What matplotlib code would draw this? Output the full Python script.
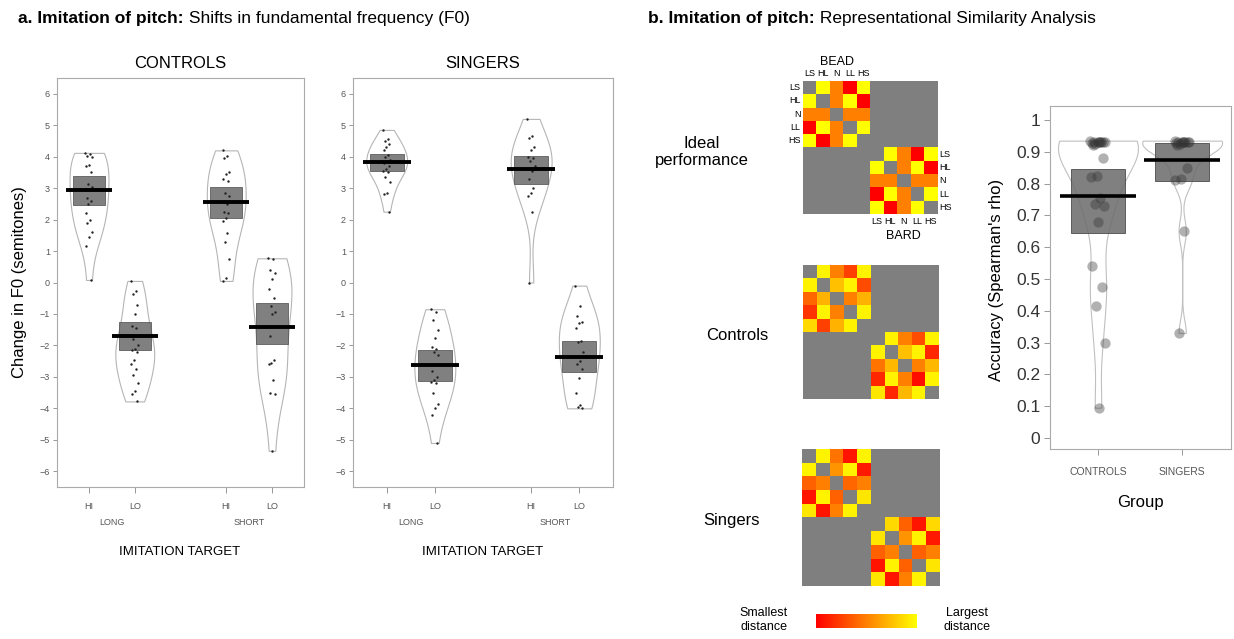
import numpy as np
import matplotlib
matplotlib.use('Agg')
import matplotlib.pyplot as plt
from matplotlib.colors import LinearSegmentedColormap

plt.rcParams['font.family'] = ['Liberation Sans', 'DejaVu Sans']

W, H = 1234, 639

# ---------------- a. F0 shifts per imitation target ----------------
targets = ['HI', 'LO', 'HI', 'LO']
durations = ['LONG', 'SHORT']
positions = [1, 2, 4, 5]

ctrl_long_hi = [4.12, 4.08, 4.02, 3.98, 3.75, 3.7, 3.5, 3.12, 3.02, 2.95, 2.7, 2.6,
                2.5, 2.2, 2.0, 1.9, 1.62, 1.45, 1.15, 0.08]
ctrl_long_lo = [0.05, -0.28, -0.38, -0.7, -1.0, -1.38, -1.45, -1.8, -2.0, -2.1,
                -2.15, -2.2, -2.45, -2.6, -2.75, -2.95, -3.2, -3.45, -3.55, -3.78]
ctrl_short_hi = [4.2, 4.02, 3.95, 3.5, 3.45, 3.3, 3.22, 2.85, 2.75, 2.5, 2.25, 2.2,
                 2.05, 1.95, 1.58, 1.3, 0.75, 0.15, 0.05]
ctrl_short_lo = [0.77, 0.75, 0.4, 0.3, 0.12, -0.2, -0.5, -0.75, -0.95, -1.0, -1.7,
                 -2.45, -2.55, -2.6, -3.1, -3.5, -3.55, -5.35]
ctrl_means = [2.95, -1.7, 2.57, -1.4]
ctrl_ci_lo = [2.45, -2.15, 2.05, -1.97]
ctrl_ci_hi = [3.37, -1.25, 3.03, -0.66]

sing_long_hi = [4.85, 4.55, 4.5, 4.4, 4.3, 4.2, 4.05, 4.0, 3.9, 3.85, 3.8, 3.7,
                3.6, 3.55, 3.5, 3.35, 3.2, 2.85, 2.8, 2.25]
sing_long_lo = [-0.85, -0.95, -1.2, -1.5, -1.75, -2.05, -2.1, -2.2, -2.3, -2.6,
                -2.8, -3.0, -3.1, -3.15, -3.2, -3.5, -3.85, -4.0, -4.2, -5.1]
sing_short_hi = [5.2, 4.65, 4.6, 4.3, 4.2, 4.0, 3.95, 3.85, 3.7, 3.55, 3.3, 3.0,
                 2.85, 2.75, 2.25, 0.0]
sing_short_lo = [-0.1, -0.75, -1.05, -1.25, -1.3, -1.45, -1.85, -1.9, -2.2, -2.5,
                 -2.6, -2.75, -3.05, -3.5, -3.9, -3.95, -4.0]
sing_means = [3.83, -2.63, 3.6, -2.37]
sing_ci_lo = [3.55, -3.12, 3.12, -2.85]
sing_ci_hi = [4.1, -2.13, 4.03, -1.87]

# ---------------- b. RSA dissimilarity matrices (0 = smallest, 1 = largest) ----------------
rsa_labels = ['LS', 'HL', 'N', 'LL', 'HS']
nan = np.nan
ideal_bead = [[nan, 1.0, 0.5, 0.0, 1.0],
              [1.0, nan, 0.5, 1.0, 0.0],
              [0.5, 0.5, nan, 0.5, 0.5],
              [0.0, 1.0, 0.5, nan, 1.0],
              [1.0, 0.0, 0.5, 1.0, nan]]
ideal_bard = ideal_bead
ctrl_bead = [[nan, 0.95, 0.5, 0.25, 0.95],
             [0.95, nan, 0.75, 0.95, 0.3],
             [0.4, 0.7, nan, 0.5, 0.7],
             [0.2, 0.95, 0.5, nan, 0.95],
             [0.85, 0.25, 0.7, 0.95, nan]]
ctrl_bard = [[nan, 0.95, 0.5, 0.3, 0.95],
             [0.95, nan, 0.75, 0.95, 0.15],
             [0.45, 0.72, nan, 0.5, 0.72],
             [0.15, 0.95, 0.5, 0.05, 0.95],
             [0.9, 0.15, 0.72, 0.95, nan]]
sing_bead = [[nan, 0.95, 0.45, 0.08, 0.95],
             [0.95, nan, 0.58, 0.95, 0.1],
             [0.38, 0.5, nan, 0.4, 0.5],
             [0.08, 0.95, 0.38, nan, 0.9],
             [0.9, 0.08, 0.5, 0.95, nan]]
sing_bard = [[nan, 0.85, 0.38, 0.08, 0.85],
             [0.9, nan, 0.58, 0.95, 0.1],
             [0.38, 0.5, nan, 0.38, 0.5],
             [0.08, 0.95, 0.38, nan, 0.9],
             [0.9, 0.08, 0.5, 0.95, nan]]

# accuracy of each participant's RDM (Spearman's rho)
groups = ['CONTROLS', 'SINGERS']
ctrl_acc = [0.935, 0.932, 0.93, 0.93, 0.93, 0.928, 0.93, 0.925, 0.93, 0.932, 0.92,
            0.88, 0.825, 0.82, 0.755, 0.735, 0.73, 0.68, 0.54, 0.475, 0.415, 0.30, 0.095]
sing_acc = [0.935, 0.932, 0.93, 0.93, 0.93, 0.928, 0.93, 0.925, 0.93, 0.932, 0.92,
            0.85, 0.815, 0.81, 0.65, 0.33]
acc_means = [0.76, 0.873]
acc_ci_lo = [0.645, 0.808]
acc_ci_hi = [0.845, 0.928]


def box(x0, y0, x1, y1):
    return [x0 / W, 1 - y1 / H, (x1 - x0) / W, (y1 - y0) / H]


def jitter(n, spread):
    # evenly scattered offsets so the dots don't sit on one line
    return ((np.arange(n) * 0.618) % 1 - 0.5) * spread


def style_frame(ax, color='#aaaaaa'):
    for s in ax.spines.values():
        s.set_color(color)
        s.set_linewidth(0.8)


def pitch_panel(ax, data, means, lo, hi):
    parts = ax.violinplot(data, positions=positions, widths=0.85, showextrema=False)
    for b in parts['bodies']:
        b.set_facecolor('white')
        b.set_edgecolor('#b5b5b5')
        b.set_linewidth(0.8)
        b.set_alpha(1)
        b.set_zorder(1)
    lo = np.array(lo)
    hi = np.array(hi)
    ax.bar(positions, hi - lo, bottom=lo, width=0.7, color='#6f6f6f', alpha=0.88,
           edgecolor='#505050', linewidth=0.6, zorder=2)
    for p, vals in zip(positions, data):
        ax.scatter(p + jitter(len(vals), 0.16), vals, s=3, color='#222222',
                   linewidths=0, zorder=3)
    ax.hlines(means, np.array(positions) - 0.5, np.array(positions) + 0.5,
              color='black', lw=2.8, zorder=4)
    ax.set_xlim(0.3, 5.7)
    ax.set_ylim(-6.5, 6.5)
    ax.set_yticks(range(-6, 7))
    ax.set_xticks(positions)
    ax.set_xticklabels(targets)
    ax.tick_params(axis='y', length=3, width=0.6, color='#888888', labelcolor='#555555',
                   labelsize=6.5, pad=2)
    ax.tick_params(axis='x', length=4, width=0.6, color='#888888', labelcolor='#555555',
                   labelsize=6.5, pad=7)
    for x, lab in zip([1.5, 4.5], durations):
        ax.text(x, -0.086, lab, transform=ax.get_xaxis_transform(), ha='center',
                va='center', fontsize=6.5, color='#555555')
    style_frame(ax)


fig = plt.figure(figsize=(W / 100, H / 100), dpi=100)

# panel titles: bold lead-in followed by plain text
renderer = fig.canvas.get_renderer()
for x, lead, rest in [(18, 'a. Imitation of pitch:', ' Shifts in fundamental frequency (F0)'),
                      (648, 'b. Imitation of pitch:', ' Representational Similarity Analysis')]:
    t = fig.text(x / W, 1 - 18 / H, lead, fontsize=12.5, fontweight='bold', va='center')
    bb = t.get_window_extent(renderer)
    fig.text(bb.x1 / W, 1 - 18 / H, rest, fontsize=12.5, va='center')

ax_c = fig.add_axes(box(57, 78, 304, 487))
pitch_panel(ax_c, [ctrl_long_hi, ctrl_long_lo, ctrl_short_hi, ctrl_short_lo],
            ctrl_means, ctrl_ci_lo, ctrl_ci_hi)
ax_s = fig.add_axes(box(353, 78, 613, 487))
pitch_panel(ax_s, [sing_long_hi, sing_long_lo, sing_short_hi, sing_short_lo],
            sing_means, sing_ci_lo, sing_ci_hi)

for cx, name in [(180, 'CONTROLS'), (483, 'SINGERS')]:
    fig.text(cx / W, 1 - 63 / H, name, ha='center', va='center', fontsize=12)
    fig.text(cx / W, 1 - 552 / H, 'IMITATION TARGET', ha='center', va='center', fontsize=9.5)
fig.text(20 / W, 1 - 282 / H, 'Change in F0 (semitones)', rotation=90,
         ha='center', va='center', fontsize=12)

# RSA matrices
cmap = LinearSegmentedColormap.from_list('dist', ['#ff0000', '#ff8000', '#ffff00'])
cmap.set_bad('#7f7f7f')


def rdm(top, bottom):
    m = np.full((10, 10), np.nan)
    m[:5, :5] = top
    m[5:, 5:] = bottom
    return np.ma.masked_invalid(m)


rdm_axes = []
for rect, top, bottom in [((803, 81, 937, 214), ideal_bead, ideal_bard),
                          ((803, 265, 938, 399), ctrl_bead, ctrl_bard),
                          ((802, 449, 939, 586), sing_bead, sing_bard)]:
    ax = fig.add_axes(box(*rect))
    ax.imshow(rdm(top, bottom), cmap=cmap, vmin=0, vmax=1, aspect='auto',
              interpolation='nearest')
    ax.axis('off')
    rdm_axes.append(ax)

ax_i = rdm_axes[0]
for i, lab in enumerate(rsa_labels):
    ax_i.text(i, -1.1, lab, ha='center', va='center', fontsize=6.5)
    ax_i.text(-0.7, i, lab, ha='right', va='center', fontsize=6.5)
    ax_i.text(9.7, i + 5, lab, ha='left', va='center', fontsize=6.5)
    ax_i.text(i + 5, 10.1, lab, ha='center', va='center', fontsize=6.5)
ax_i.text(2, -1.95, 'BEAD', ha='center', va='center', fontsize=9)
ax_i.text(7, 11.15, 'BARD', ha='center', va='center', fontsize=9)

fig.text(702 / W, 1 - 152 / H, 'Ideal\nperformance', ha='center', va='center',
         fontsize=12, linespacing=1.2)
fig.text(737 / W, 1 - 336 / H, 'Controls', ha='center', va='center', fontsize=12)
fig.text(732 / W, 1 - 520 / H, 'Singers', ha='center', va='center', fontsize=12)

ax_cb = fig.add_axes(box(816, 614, 917, 628))
ax_cb.imshow(np.linspace(0, 1, 256)[None, :], cmap=cmap, aspect='auto')
ax_cb.axis('off')
fig.text(764 / W, 1 - 620 / H, 'Smallest\ndistance', ha='center', va='center', fontsize=9)
fig.text(967 / W, 1 - 620 / H, 'Largest\ndistance', ha='center', va='center', fontsize=9)

# accuracy per group
ax_a = fig.add_axes(box(1050, 106, 1231, 449))
acc_pos = [1, 2]
for p, vals, bw in zip(acc_pos, [ctrl_acc, sing_acc], [0.35, 0.25]):
    parts = ax_a.violinplot([vals], positions=[p], widths=0.95, showextrema=False,
                            bw_method=bw)
    for b in parts['bodies']:
        b.set_facecolor('white')
        b.set_edgecolor('#c0c0c0')
        b.set_linewidth(0.8)
        b.set_alpha(1)
        b.set_zorder(1)
    ax_a.scatter(p + jitter(len(vals), 0.18), vals, s=55, color='#333333', alpha=0.38,
                 linewidths=0, zorder=3)
lo = np.array(acc_ci_lo)
hi = np.array(acc_ci_hi)
ax_a.bar(acc_pos, hi - lo, bottom=lo, width=0.64, color='#6a6a6a', alpha=0.85,
         edgecolor='#4a4a4a', linewidth=0.7, zorder=2)
ax_a.hlines(acc_means, np.array(acc_pos) - 0.45, np.array(acc_pos) + 0.45,
            color='black', lw=2.6, zorder=4)
ax_a.set_xlim(0.43, 2.58)
ax_a.set_ylim(-0.035, 1.044)
yt = np.round(np.arange(0, 1.01, 0.1), 1)
ax_a.set_yticks(yt)
ax_a.set_yticklabels([f'{v:g}' for v in yt])
ax_a.set_xticks(acc_pos)
ax_a.set_xticklabels(groups)
ax_a.tick_params(axis='y', length=4, width=0.6, color='#888888', labelcolor='#333333',
                 labelsize=12.5, pad=3)
ax_a.tick_params(axis='x', length=4, width=0.6, color='#888888', labelcolor='#555555',
                 labelsize=7.5, pad=9)
style_frame(ax_a)
fig.text(997 / W, 1 - 280 / H, "Accuracy (Spearman's rho)", rotation=90,
         ha='center', va='center', fontsize=12)
fig.text(1140 / W, 1 - 503 / H, 'Group', ha='center', va='center', fontsize=12)

fig.savefig('out.png', dpi=100, facecolor='white')
